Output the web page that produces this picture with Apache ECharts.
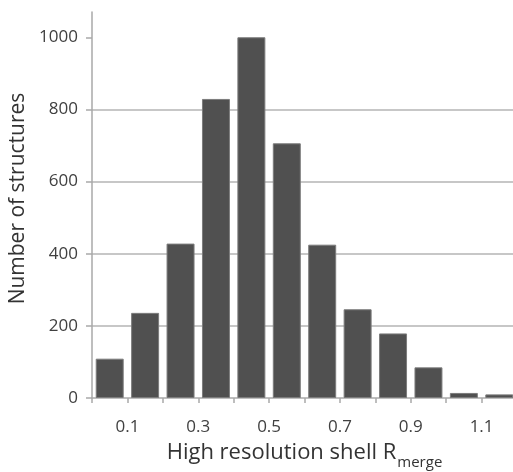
<!DOCTYPE html>
<html>
<head>
<meta charset="utf-8">
<script src="https://cdn.jsdelivr.net/npm/echarts@6/dist/echarts.min.js"></script>
<style>
html,body{margin:0;padding:0;background:#fff;}
#chart{width:513px;height:472px;}
</style>
</head>
<body>
<div id="chart"></div>
<script>
// bins (centres) of Rmerge, width 0.1
var categories = ['0.05','0.15','0.25','0.35','0.45','0.55','0.65','0.75','0.85','0.95','1.05','1.15'];
var counts = [109, 236, 428, 829, 1000, 706, 425, 246, 179, 85, 14, 10];
var xTickLabels = ['0.1','0.3','0.5','0.7','0.9','1.1'];
var yTickValues = [0, 200, 400, 600, 800, 1000];

var FONT = '"Open Sans", sans-serif';
var chart = echarts.init(document.getElementById('chart'), null, {renderer:'canvas'});
chart.setOption({
  animation: false,
  backgroundColor: '#ffffff',
  grid: {left: 92, top: 12, right: -4, bottom: 74, containLabel: false, outerBoundsMode: 'none'},
  xAxis: [{
    type: 'category',
    data: categories,
    position: 'bottom',
    boundaryGap: true,
    axisLine: {show: true, lineStyle: {color: '#a9a9a9', width: 1.5}},
    axisTick: {show: true, length: 5, lineStyle: {color: '#a9a9a9', width: 1.5}},
    axisLabel: {show: false},
    splitLine: {show: false}
  }, {
    type: 'value',
    position: 'bottom',
    min: 0, max: 1.2, interval: 0.1,
    axisLine: {show: false},
    axisTick: {show: false},
    splitLine: {show: false},
    axisLabel: {
      margin: 21,
      fontFamily: FONT, fontSize: 17, color: '#404040',
      formatter: function (v) {
        var s = v.toFixed(1);
        return xTickLabels.indexOf(s) >= 0 ? s : '';
      }
    },
    name: '{a|High resolution shell R}{sub|merge}',
    nameLocation: 'middle',
    nameGap: 44,
    nameTextStyle: {
      rich: {
        a: {fontFamily: FONT, fontSize: 22, color: '#333', verticalAlign: 'bottom'},
        sub: {fontFamily: FONT, fontSize: 15, color: '#333', verticalAlign: 'bottom', padding: [0,0,-6,1]}
      }
    }
  }],
  yAxis: {
    type: 'value',
    min: 0, max: 1070, interval: 200,
    axisLine: {show: true, lineStyle: {color: '#a9a9a9', width: 1.5}},
    axisTick: {show: true, length: 6, customValues: yTickValues, lineStyle: {color: '#a9a9a9', width: 1.5}},
    axisLabel: {
      margin: 14, fontFamily: FONT, fontSize: 17, color: '#404040',
      customValues: yTickValues,
      formatter: function (v) { return String(v); }
    },
    splitLine: {show: true, showMinLine: false, showMaxLine: false, lineStyle: {color: '#b4b4b4', width: 1.5}},
    name: 'Number of structures',
    nameLocation: 'middle',
    nameGap: 52,
    nameTextStyle: {fontFamily: FONT, fontSize: 21, color: '#333', padding: [0,0,0,13]}
  },
  series: [{
    type: 'bar',
    xAxisIndex: 0,
    data: counts,
    barCategoryGap: '21%',
    itemStyle: {color: '#505050', borderColor: '#7c7c7c', borderWidth: 1}
  }]
});
</script>
</body>
</html>
